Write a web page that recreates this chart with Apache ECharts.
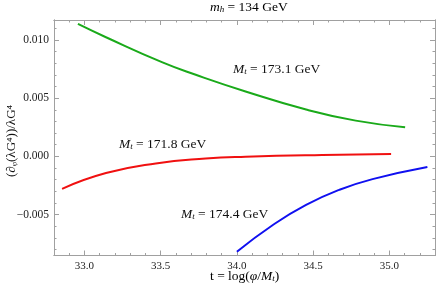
<!DOCTYPE html>
<html>
<head>
<meta charset="utf-8">
<script src="https://cdn.jsdelivr.net/npm/echarts@6/dist/echarts.min.js"></script>
<style>html,body{margin:0;padding:0;background:#fff}#c{width:436px;height:291px}</style>
</head>
<body>
<div id="c"></div>
<script>
var xMajor = [33.0, 33.5, 34.0, 34.5, 35.0];
var yMajor = [-0.005, 0.0, 0.005, 0.010];
var greenT = [32.957, 33.141, 33.512, 33.73, 34.057, 34.454, 34.78, 35.104];
var greenV = [0.01136, 0.01022, 0.00806, 0.00700, 0.00557, 0.00402, 0.00307, 0.0025];
var redT = [32.853, 33.141, 33.468, 33.795, 34.057, 34.56, 35.012];
var redV = [-0.00278, -0.00143, -0.00060, -0.00018, -0.00002, 0.00013, 0.00020];
var blueT = [34.0, 34.236, 34.454, 34.672, 34.89, 35.25];
var blueV = [-0.00818, -0.00588, -0.00416, -0.00287, -0.00195, -0.00091];

var xMinor = [];
for (var i = 328; i <= 353; i++) xMinor.push(i / 10);
var yMinor = [];
for (var j = -8; j <= 11; j++) yMinor.push(j / 1000);

function pairs(a, b) { return a.map(function (v, k) { return [v, b[k]]; }); }

var F = 'Liberation Serif';
var XMIN = 32.8, XMAX = 35.3, YMIN = -0.0085, YMAX = 0.0117;
var lineC = '#a0a0a0';

function xAx(pos, labels, major) {
  return {
    type: 'value', position: pos, min: XMIN, max: XMAX,
    axisLine: { show: true, onZero: false, lineStyle: { color: lineC, width: 1 } },
    splitLine: { show: false },
    axisTick: { show: true, inside: true, length: major ? 5 : 2.5, lineStyle: { color: lineC }, customValues: major ? xMajor : xMinor },
    axisLabel: { show: labels, customValues: xMajor, color: '#222', fontFamily: F, fontSize: 11, margin: 5,
      formatter: function (v) { return v.toFixed(1); } }
  };
}
function yAx(pos, labels, major) {
  return {
    type: 'value', position: pos, min: YMIN, max: YMAX,
    axisLine: { show: true, onZero: false, lineStyle: { color: lineC, width: 1 } },
    splitLine: { show: false },
    axisTick: { show: true, inside: true, length: major ? 5 : 2.5, lineStyle: { color: lineC }, customValues: major ? yMajor : yMinor },
    axisLabel: { show: labels, customValues: yMajor, color: '#222', fontFamily: F, fontSize: 11.5, margin: 5,
      formatter: function (v) { return v.toFixed(3).replace('-', '\u2212'); } }
  };
}

var rich = {
  n: { fontFamily: F, fontSize: 13.5, color: '#111' },
  i: { fontFamily: F, fontSize: 13.5, fontStyle: 'italic', color: '#111' },
  s: { fontFamily: F, fontSize: 9, fontStyle: 'italic', color: '#111', padding: [6, 0, 0, 0] }
};
function label(x, y, txt) {
  return { type: 'text', left: x, top: y, style: { text: txt, rich: rich, fill: '#111' } };
}

var chart = echarts.init(document.getElementById('c'), null, { renderer: 'canvas' });
chart.setOption({
  animation: false,
  grid: { left: 54, width: 381, top: 20, height: 235.5, containLabel: false },
  xAxis: [xAx('bottom', true, true), xAx('bottom', false, false), xAx('top', false, true), xAx('top', false, false)],
  yAxis: [yAx('left', true, true), yAx('left', false, false), yAx('right', false, true), yAx('right', false, false)],
  series: [
    { type: 'line', data: pairs(greenT, greenV), smooth: true, showSymbol: false, lineStyle: { color: '#1aaa1a', width: 2 } },
    { type: 'line', data: pairs(redT, redV), smooth: true, showSymbol: false, lineStyle: { color: '#f01010', width: 2 } },
    { type: 'line', data: pairs(blueT, blueV), smooth: true, showSymbol: false, lineStyle: { color: '#1010f0', width: 2 } }
  ],
  graphic: [
    label(233, 62, '{i|M}{s|t}{n| = 173.1 GeV}'),
    label(119, 137, '{i|M}{s|t}{n| = 171.8 GeV}'),
    label(181, 207, '{i|M}{s|t}{n| = 174.4 GeV}'),
    { type: 'text', left: 210, top: 0, style: { text: '{i|m}{s|h}{n| = 134 GeV}', rich: rich } },
    { type: 'text', left: 210, top: 269, style: { text: '{n|t = log(}{i|\u03c6}{n|/}{i|M}{s|t}{n|)}', rich: rich } },
    { type: 'text', x: 12, y: 141, rotation: Math.PI / 2,
      style: { text: '(\u2202\u1d69(\u03bbG\u2074))/\u03bbG\u2074', font: '13px "Liberation Serif"', fill: '#111', align: 'center', verticalAlign: 'middle' } }
  ]
});
</script>
</body>
</html>
